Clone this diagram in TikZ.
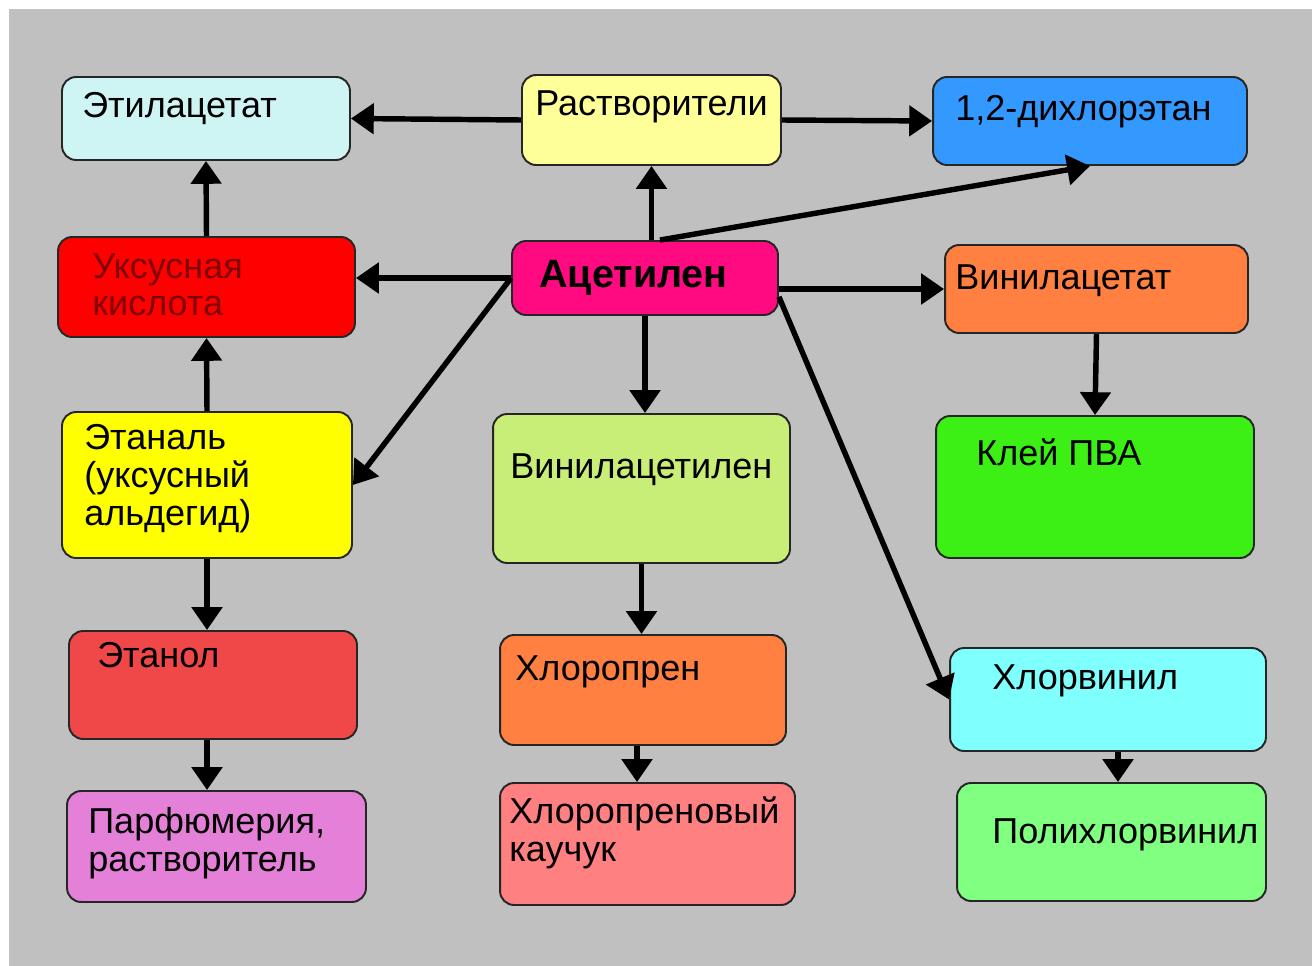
\documentclass[tikz,border=0pt]{standalone}
\usepackage{fontspec}
\setmainfont{Liberation Sans}
\usetikzlibrary{arrows.meta,calc}
\definecolor{bg}{HTML}{C0C0C0}
\definecolor{cEtil}{HTML}{CFF4F4}
\definecolor{cRastv}{HTML}{FFFF99}
\definecolor{cDichl}{HTML}{3399FF}
\definecolor{cUksus}{HTML}{FF0000}
\definecolor{cAcet}{HTML}{FF0A80}
\definecolor{cVinac}{HTML}{FF8040}
\definecolor{cEtanal}{HTML}{FFFF00}
\definecolor{cVinacet}{HTML}{C8EE78}
\definecolor{cKlei}{HTML}{3CEF14}
\definecolor{cEtanol}{HTML}{F04848}
\definecolor{cHlpren}{HTML}{FF8040}
\definecolor{cHlvin}{HTML}{80FFFF}
\definecolor{cParf}{HTML}{E480D8}
\definecolor{cKauch}{HTML}{FF8080}
\definecolor{cPolyhl}{HTML}{80FF80}
\tikzstyle{block}=[draw=black!85, line width=1.1pt, rounded corners=8pt, inner sep=0pt]
\tikzstyle{edge} = [draw, line width=3.1pt, -{Triangle[width=17pt,length=13pt]}]
\tikzstyle{boxtext}=[anchor=base west, align=left, inner sep=0pt, font=\fontsize{20.5}{21.5}\selectfont]

\begin{document}
\begin{tikzpicture}[x=0.02cm, y=-0.02cm]

    \useasboundingbox (0,0) rectangle (1312,966);
    \fill[bg] (9,9) rectangle (1312,966);

    % boxes: x/y/width/height/colour/name
    \foreach \x/\y/\w/\h/\col/\name in {
        206/118.5/5.76/1.66/cEtil/etil, 651.5/120/5.18/1.80/cRastv/rastv,
        1090/121/6.28/1.76/cDichl/dichl, 206.5/287/5.94/2.00/cUksus/uksus,
        645/278/5.32/1.48/cAcet/acet, 1096.5/289/6.06/1.76/cVinac/vinac,
        207/485/5.80/2.92/cEtanal/etanal, 641.5/488.5/5.94/2.98/cVinacet/vinacet,
        1095/487/6.36/2.84/cKlei/klei, 213/685/5.76/2.16/cEtanol/etanol,
        643/690/5.72/2.20/cHlpren/hlpren, 1108/699.5/6.32/2.06/cHlvin/hlvin,
        216.5/846.5/5.98/2.22/cParf/parf, 647.5/844/5.90/2.44/cKauch/kauch,
        1111.5/842/6.18/2.36/cPolyhl/polyhl}
        \node[block, fill=\col, minimum width=\w cm, minimum height=\h cm] (\name) at (\x,\y) {};

    % texts (multi-line ones sit on their last baseline)
    \node[boxtext] (etil-t) at (82,118) {Этилацетат};
    \node[boxtext] (rastv-t) at (535,116) {Растворители};
    \node[boxtext] (dichl-t) at (955,121) {1,2-дихлорэтан};
    \node[boxtext, text=black!50!red] (uksus-t) at (92,316) {Уксусная\\кислота};
    \node[boxtext, font=\fontsize{22.5}{24}\selectfont\bfseries] (acet-t) at (539,288) {Ацетилен};
    \node[boxtext] (vinac-t) at (955,290) {Винилацетат};
    \node[boxtext] (etanal-t) at (84,525) {Этаналь\\(уксусный\\альдегид)};
    \node[boxtext] (vinacet-t) at (510,478) {Винилацетилен};
    \node[boxtext] (klei-t) at (976,465) {Клей ПВА};
    \node[boxtext] (etanol-t) at (97,667) {Этанол};
    \node[boxtext] (hlpren-t) at (515,680) {Хлоропрен};
    \node[boxtext] (hlvin-t) at (992,689) {Хлорвинил};
    \node[boxtext] (parf-t) at (88,871) {Парфюмерия,\\растворитель};
    \node[boxtext] (kauch-t) at (509,861) {Хлоропреновый\\каучук};
    \node[boxtext] (polyhl-t) at (992,843) {Полихлорвинил};

    % arrows
    \foreach \source/\dest in {rastv.west/etil.east, rastv.east/dichl.west,
        acet.west/etanal.east, acet.-8/hlvin.west, etanal.north/uksus.south,
        uksus.north/etil.south, vinac.south/klei.north}
        \path[edge] (\source) -- (\dest);

    \path[edge] (rastv.south |- acet.north) -- (rastv.south);
    \path[edge] ($(acet.north)+(15,0)$) -- (dichl.south);
    \path[edge] (acet.west) -- (acet.west -| uksus.east);
    \path[edge] (vinac.west -| acet.east) -- (vinac.west);
    \path[edge] (acet.south) -- (acet.south |- vinacet.north);
    \path[edge] (etanal.south) -- (etanal.south |- etanol.north);
    \path[edge] (etanal.south |- etanol.south) -- (etanal.south |- parf.north);
    \path[edge] (vinacet.south) -- (vinacet.south |- hlpren.north);
    \path[edge] ($(hlpren.south)+(-6,0)$) -- ($(hlpren.south |- kauch.north)+(-6,0)$);
    \path[edge] ($(hlvin.south)+(10,0)$) -- ($(hlvin.south |- polyhl.north)+(10,0)$);

\end{tikzpicture}
\end{document}
